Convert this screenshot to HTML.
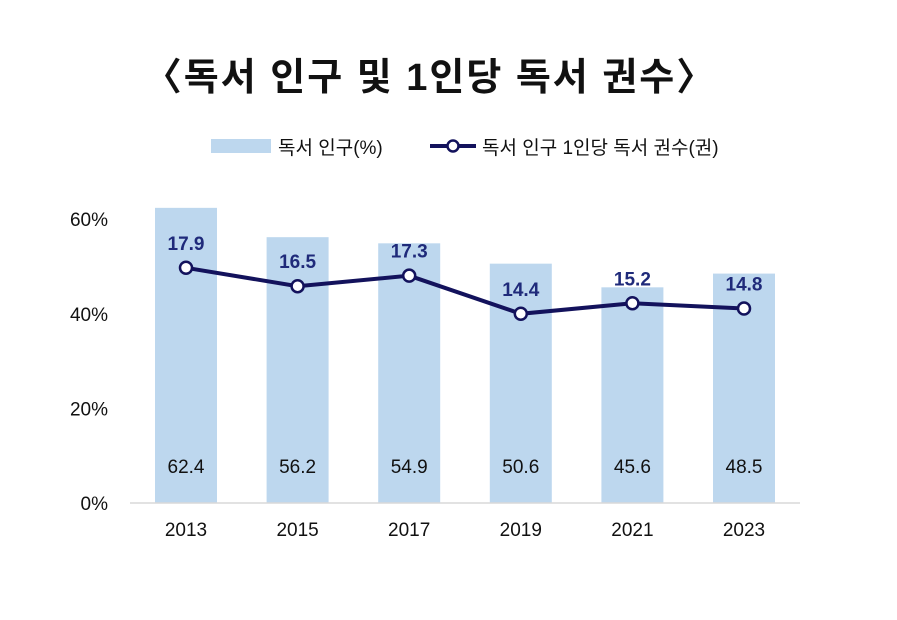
<!DOCTYPE html>
<html><head><meta charset="utf-8"><style>
body{margin:0;background:#fff;width:897px;height:615px;overflow:hidden;font-family:"Liberation Sans","Noto Sans CJK KR",sans-serif;}
</style></head><body>
<svg width="897" height="615" xmlns="http://www.w3.org/2000/svg" id="svg">
<text x="430" y="90" text-anchor="middle" font-size="38" font-weight="bold" letter-spacing="2" fill="#111" font-family="Liberation Sans, Noto Sans CJK KR, sans-serif">〈독서 인구 및 1인당 독서 권수〉</text>
<g font-family="Liberation Sans, Noto Sans CJK KR, sans-serif" font-size="19" fill="#111">
<rect x="211" y="139" width="60" height="14" fill="#bdd7ee"/>
<text x="278" y="154">독서 인구(%)</text>
<line x1="430" y1="146" x2="476" y2="146" stroke="#13125c" stroke-width="4"/>
<circle cx="453" cy="146" r="5.5" fill="#fff" stroke="#13125c" stroke-width="2.5"/>
<text x="482" y="154">독서 인구 1인당 독서 권수(권)</text>
</g>
<g id="plot"></g>
</svg>
<script>
const years=["2013","2015","2017","2019","2021","2023"];
const readingPop=[62.4,56.2,54.9,50.6,45.6,48.5];
const booksPerPerson=[17.9,16.5,17.3,14.4,15.2,14.8];
const yTicks=[0,20,40,60];
const NS="http://www.w3.org/2000/svg";
const g=document.getElementById('plot');
const y0=503, pxPerPct=4.73, pxPerBook=13.14;
const yP=v=>y0-v*pxPerPct, yB=v=>y0-v*pxPerBook;
const xC=i=>186+i*111.6;
function mk(t,a){const e=document.createElementNS(NS,t);for(const k in a)e.setAttribute(k,a[k]);g.appendChild(e);return e;}
yTicks.forEach(t=>{const e=mk('text',{x:108,y:yP(t)+7,'text-anchor':'end','font-size':19,fill:'#111'});e.textContent=t+'%';

});
readingPop.forEach((v,i)=>{const r=mk('rect',{x:xC(i)-31,y:yP(v),width:62,height:y0-yP(v),fill:'#bdd7ee'});


const t=mk('text',{x:xC(i),y:473,'text-anchor':'middle','font-size':19,fill:'#111'});t.textContent=v.toFixed(1);


const x=mk('text',{x:xC(i),y:536,'text-anchor':'middle','font-size':19,fill:'#111'});x.textContent=years[i];

});
const ax=mk('line',{x1:130,y1:y0,x2:800,y2:y0,stroke:'#d9d9d9','stroke-width':1.5});


const pl=mk('polyline',{points:booksPerPerson.map((v,i)=>xC(i)+','+yB(v)).join(' '),fill:'none',stroke:'#13125c','stroke-width':4});


booksPerPerson.forEach((v,i)=>{const c=mk('circle',{cx:xC(i),cy:yB(v),r:6,fill:'#fff',stroke:'#13125c','stroke-width':2.5});


const t=mk('text',{x:xC(i),y:yB(v)-18,'text-anchor':'middle','font-size':19,'font-weight':'bold',fill:'#1f2a7a'});t.textContent=v.toFixed(1);

});
</script>
</body></html>
